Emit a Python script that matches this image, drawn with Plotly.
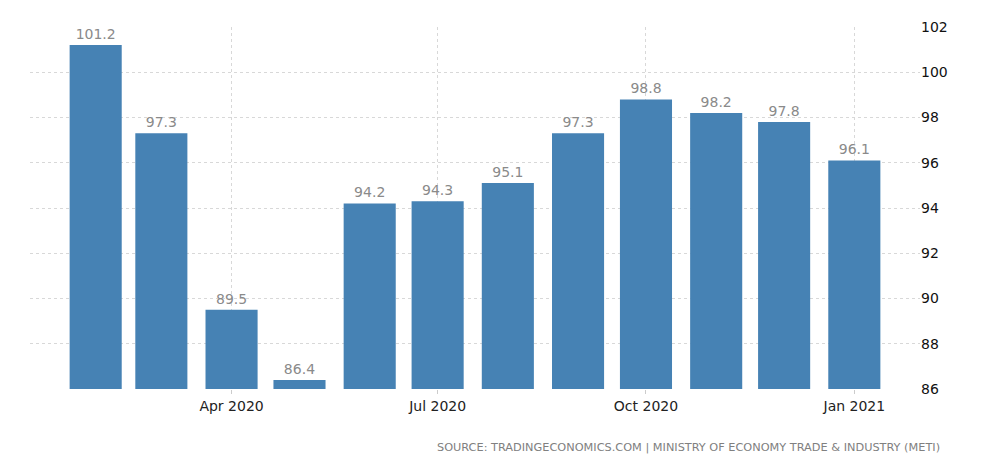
import plotly.graph_objects as go

months = ["2020-02-01", "2020-03-01", "2020-04-01", "2020-05-01", "2020-06-01", "2020-07-01",
          "2020-08-01", "2020-09-01", "2020-10-01", "2020-11-01", "2020-12-01", "2021-01-01"]
values = [101.2, 97.3, 89.5, 86.4, 94.2, 94.3, 95.1, 97.3, 98.8, 98.2, 97.8, 96.1]
x_tick_vals = ["2020-04-01", "2020-07-01", "2020-10-01", "2021-01-01"]
x_tick_text = ["Apr 2020", "Jul 2020", "Oct 2020", "Jan 2021"]
y_ticks = [86, 88, 90, 92, 94, 96, 98, 100, 102]
source = "SOURCE: TRADINGECONOMICS.COM | MINISTRY OF ECONOMY TRADE & INDUSTRY (METI)"

BASE = 86
# page body has an 8px margin, so the figure is drawn at offset (8, 8)
W, H = 996, 460
L, R, T, B = 22, 84, 19, 79

fig = go.Figure()
fig.add_trace(go.Bar(
    x=months, y=[v - BASE for v in values],
    base=BASE,
    width=23 * 86400000,
    marker=dict(color="#4682B4", line=dict(width=0)),
    text=[f"{v:.1f}" for v in values],
    textposition="outside",
    textfont=dict(color="#8a8a8a", size=14, family="DejaVu Sans"),
    cliponaxis=False,
))

fig.update_layout(
    width=W, height=H,
    margin=dict(l=L, r=R, t=T, b=B, autoexpand=False),
    paper_bgcolor="white", plot_bgcolor="white",
    showlegend=False,
    font=dict(family="DejaVu Sans", size=13, color="#333333"),
    xaxis=dict(
        type="date",
        range=["2020-01-03", "2021-01-30"],
        tickvals=x_tick_vals, ticktext=x_tick_text,
        showgrid=True, gridcolor="#d8d8d8", griddash="dot", gridwidth=1,
        ticks="outside", ticklen=4, tickcolor="#cccccc",
        tickfont=dict(size=14, color="#222222"),
        showline=False, zeroline=False,
    ),
    yaxis=dict(
        side="right",
        range=[86, 102],
        tickvals=y_ticks,
        showgrid=True, gridcolor="#d8d8d8", griddash="dot", gridwidth=1,
        tickfont=dict(size=14, color="#111111"),
        ticks="", showline=False, zeroline=False,
    ),
)
pw = W - L - R
ph = H - T - B
fig.add_annotation(
    text=source, xref="paper", yref="paper",
    x=(942 - 8 - L) / pw, y=-(447 - 389) / ph,
    xanchor="right", yanchor="middle", showarrow=False,
    font=dict(size=11.3, color="#808080", family="DejaVu Sans"),
)

fig.write_html("out.html")
